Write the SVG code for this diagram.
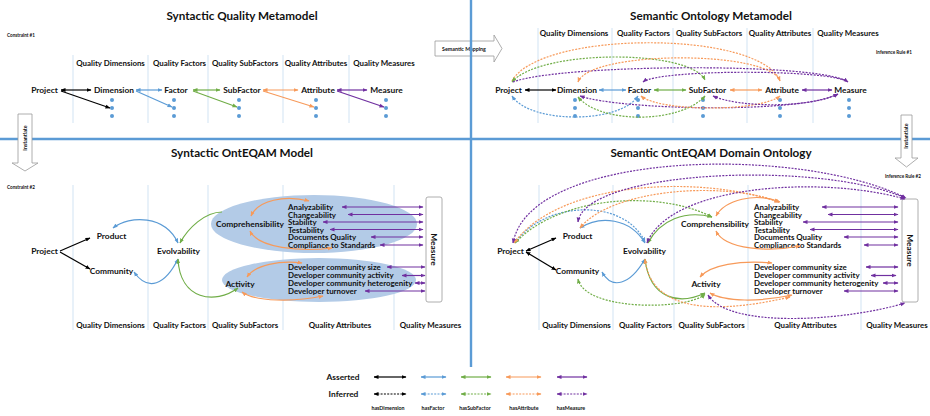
<svg xmlns="http://www.w3.org/2000/svg" width="930" height="416" viewBox="0 0 930 416">
<defs>
<style>
text{font-family:Lato,"Liberation Sans",sans-serif;font-weight:bold;fill:#111}
.t{font-size:11.7px;text-anchor:middle}
.h{font-size:7.9px;text-anchor:middle}
.n{font-size:8.4px;text-anchor:middle}
.a{font-size:7.9px}
.s{font-size:4.6px}
.sm{font-size:5.3px;text-anchor:middle}
.lane{stroke:#c5dcf0;stroke-width:0.8}
.div{stroke:#5b9bd5;stroke-width:2.4}
.dot{fill:#5b9bd5}
.k,.b,.g,.o,.p{fill:none;stroke-width:1.2}
.k{stroke:#000}.b{stroke:#5b9bd5}.g{stroke:#70ad47}.o{stroke:#f79a5a}.p{stroke:#7030a0}
.d{stroke-dasharray:2 1.3}
.ell{fill:#b3cbe7}
.box{fill:#fff;stroke:#999;stroke-width:0.8}
</style>
<marker id="mk" viewBox="0 0 10 10" refX="9" refY="5" markerWidth="5" markerHeight="5" markerUnits="userSpaceOnUse" orient="auto-start-reverse"><path d="M0,1 L10,5 L0,9 z" fill="#000"/></marker>
<marker id="mb" viewBox="0 0 10 10" refX="9" refY="5" markerWidth="5" markerHeight="5" markerUnits="userSpaceOnUse" orient="auto-start-reverse"><path d="M0,1 L10,5 L0,9 z" fill="#5b9bd5"/></marker>
<marker id="mg" viewBox="0 0 10 10" refX="9" refY="5" markerWidth="5" markerHeight="5" markerUnits="userSpaceOnUse" orient="auto-start-reverse"><path d="M0,1 L10,5 L0,9 z" fill="#70ad47"/></marker>
<marker id="mo" viewBox="0 0 10 10" refX="9" refY="5" markerWidth="5" markerHeight="5" markerUnits="userSpaceOnUse" orient="auto-start-reverse"><path d="M0,1 L10,5 L0,9 z" fill="#f79a5a"/></marker>
<marker id="mp" viewBox="0 0 10 10" refX="9" refY="5" markerWidth="5" markerHeight="5" markerUnits="userSpaceOnUse" orient="auto-start-reverse"><path d="M0,1 L10,5 L0,9 z" fill="#7030a0"/></marker>
</defs>
<rect width="930" height="416" fill="#fff"/>

<g id="semantic-mapping">
<polygon class="box" points="435,41 494,41 494,35 502,48.5 494,62 494,56 435,56"/>
<text class="sm" x="464" y="50.5">Semantic Mapping</text>
</g>

<g id="dividers">
<line class="div" x1="471" y1="0" x2="471" y2="367"/>
<line class="div" x1="0" y1="139" x2="930" y2="139"/>
</g>

<g id="lanes">
<path class="lane" d="M73,55V123M148,55V123M208,55V123M283,55V123M349,55V123"/>
<path class="lane" d="M538,28V123M612,28V123M673,28V123M747,28V123M813,28V123"/>
<path class="lane" d="M73,185V330M148,185V330M208,185V330M283,185V330M394,185V330"/>
<path class="lane" d="M539,185V330M613,185V330M674,185V330M748,185V330M861,185V330"/>
</g>

<g id="ellipses">
<ellipse class="ell" cx="314" cy="224" rx="103" ry="29"/>
<ellipse class="ell" cx="319" cy="280" rx="97" ry="22"/>
</g>

<g id="instantiate-left">
<polygon class="box" points="18,114 32,114 32,163 38,163 25,171 12,163 18,163"/>
<text class="sm" transform="translate(26.8,138) rotate(-90)">Instantiate</text>
</g>
<g id="instantiate-right">
<polygon class="box" points="901,115 912,115 912,158 918,158 906.5,167 895,158 901,158"/>
<text class="sm" transform="translate(908.4,136) rotate(-90)">Instantiate</text>
</g>

<g id="titles">
<text class="t" x="242" y="20">Syntactic Quality Metamodel</text>
<text class="t" x="711" y="20">Semantic Ontology Metamodel</text>
<text class="t" x="242" y="157">Syntactic OntEQAM Model</text>
<text class="t" x="711" y="157">Semantic OntEQAM Domain Ontology</text>
<text class="s" x="7" y="37">Constraint #1</text>
<text class="s" x="7" y="189">Constraint #2</text>
<text class="s" x="876" y="54">Inference Rule #1</text>
<text class="s" x="885" y="178">Inference Rule #2</text>
</g>

<g id="headers">
<text class="h" x="110.5" y="66">Quality Dimensions</text>
<text class="h" x="179.5" y="66">Quality Factors</text>
<text class="h" x="245" y="66">Quality SubFactors</text>
<text class="h" x="316" y="66">Quality Attributes</text>
<text class="h" x="384" y="66">Quality Measures</text>
<text class="h" x="574" y="36">Quality Dimensions</text>
<text class="h" x="643.5" y="36">Quality Factors</text>
<text class="h" x="709" y="36">Quality SubFactors</text>
<text class="h" x="780" y="36">Quality Attributes</text>
<text class="h" x="848" y="36">Quality Measures</text>
<text class="h" x="110.5" y="328">Quality Dimensions</text>
<text class="h" x="179.5" y="328">Quality Factors</text>
<text class="h" x="245" y="328">Quality SubFactors</text>
<text class="h" x="340" y="328">Quality Attributes</text>
<text class="h" x="430.5" y="328">Quality Measures</text>
<text class="h" x="576.5" y="328">Quality Dimensions</text>
<text class="h" x="645.5" y="328">Quality Factors</text>
<text class="h" x="711.5" y="328">Quality SubFactors</text>
<text class="h" x="805.5" y="328">Quality Attributes</text>
<text class="h" x="897" y="328">Quality Measures</text>
</g>

<g id="tl-project"><text class="n" x="44.5" y="93">Project</text></g>
<g id="tl-dimension"><text class="n" x="114" y="93">Dimension</text><circle class="dot" cx="112" cy="100" r="2"/><circle class="dot" cx="112" cy="108" r="2"/><circle class="dot" cx="112" cy="116" r="2"/></g>
<g id="tl-factor"><text class="n" x="176" y="93">Factor</text><circle class="dot" cx="174" cy="100" r="2"/><circle class="dot" cx="174" cy="108" r="2"/><circle class="dot" cx="174" cy="116" r="2"/></g>
<g id="tl-subfactor"><text class="n" x="242" y="93">SubFactor</text><circle class="dot" cx="239" cy="100" r="2"/><circle class="dot" cx="239" cy="108" r="2"/><circle class="dot" cx="239" cy="116" r="2"/></g>
<g id="tl-attribute"><text class="n" x="318" y="93">Attribute</text><circle class="dot" cx="316" cy="100" r="2"/><circle class="dot" cx="316" cy="108" r="2"/><circle class="dot" cx="316" cy="116" r="2"/></g>
<g id="tl-measure"><text class="n" x="386.5" y="93">Measure</text><circle class="dot" cx="386" cy="100" r="2"/><circle class="dot" cx="386" cy="108" r="2"/><circle class="dot" cx="386" cy="116" r="2"/></g>

<g id="tr-project"><text class="n" x="508.5" y="93">Project</text></g>
<g id="tr-dimension"><text class="n" x="577" y="93">Dimension</text><circle class="dot" cx="575" cy="100" r="2"/><circle class="dot" cx="575" cy="108" r="2"/><circle class="dot" cx="575" cy="116" r="2"/></g>
<g id="tr-factor"><text class="n" x="639.5" y="93">Factor</text><circle class="dot" cx="638" cy="100" r="2"/><circle class="dot" cx="638" cy="108" r="2"/><circle class="dot" cx="638" cy="116" r="2"/></g>
<g id="tr-subfactor"><text class="n" x="707.5" y="93">SubFactor</text><circle class="dot" cx="703" cy="100" r="2"/><circle class="dot" cx="703" cy="108" r="2"/><circle class="dot" cx="703" cy="116" r="2"/></g>
<g id="tr-attribute"><text class="n" x="782" y="93">Attribute</text><circle class="dot" cx="780" cy="100" r="2"/><circle class="dot" cx="780" cy="108" r="2"/><circle class="dot" cx="780" cy="116" r="2"/></g>
<g id="tr-measure"><text class="n" x="850.5" y="93">Measure</text><circle class="dot" cx="849" cy="100" r="2"/><circle class="dot" cx="849" cy="108" r="2"/><circle class="dot" cx="849" cy="116" r="2"/></g>

<g id="bl-project"><text class="n" x="44.5" y="254">Project</text></g>
<g id="bl-product"><text class="n" x="111.5" y="239">Product</text></g>
<g id="bl-community"><text class="n" x="111.5" y="274">Community</text></g>
<g id="bl-evolvability"><text class="n" x="178.5" y="254">Evolvability</text></g>
<g id="bl-comprehensibility"><text class="n" x="250" y="227">Comprehensibility</text></g>
<g id="bl-activity"><text class="n" x="240" y="287">Activity</text></g>
<g id="bl-attributes">
<text class="a" x="288" y="210">Analyzability</text>
<text class="a" x="288" y="217.6">Changeability</text>
<text class="a" x="288" y="225.2">Stability</text>
<text class="a" x="288" y="232.8">Testability</text>
<text class="a" x="288" y="240.4">Documents Quality</text>
<text class="a" x="288" y="248">Compliance to Standards</text>
<text class="a" x="288" y="270">Developer community size</text>
<text class="a" x="288" y="278">Developer community activity</text>
<text class="a" x="288" y="286">Developer community heterogenity</text>
<text class="a" x="288" y="294">Developer turnover</text>
</g>
<g id="bl-measure"><rect class="box" x="426" y="197" width="16" height="105" rx="2"/><text class="n" transform="translate(431.2,249.5) rotate(90)">Measure</text></g>

<g id="br-project"><text class="n" x="510.5" y="254">Project</text></g>
<g id="br-product"><text class="n" x="577.5" y="239">Product</text></g>
<g id="br-community"><text class="n" x="577.5" y="274">Community</text></g>
<g id="br-evolvability"><text class="n" x="644.5" y="254">Evolvability</text></g>
<g id="br-comprehensibility"><text class="n" x="715" y="227">Comprehensibility</text></g>
<g id="br-activity"><text class="n" x="706" y="287">Activity</text></g>
<g id="br-attributes">
<text class="a" x="754" y="210">Analyzability</text>
<text class="a" x="754" y="217.6">Changeability</text>
<text class="a" x="754" y="225.2">Stability</text>
<text class="a" x="754" y="232.8">Testability</text>
<text class="a" x="754" y="240.4">Documents Quality</text>
<text class="a" x="754" y="248">Compliance to Standards</text>
<text class="a" x="754" y="270">Developer community size</text>
<text class="a" x="754" y="278">Developer community activity</text>
<text class="a" x="754" y="286">Developer community heterogenity</text>
<text class="a" x="754" y="294">Developer turnover</text>
</g>
<g id="br-measure"><rect class="box" x="902" y="199" width="16" height="103" rx="2"/><text class="n" transform="translate(907.2,250.5) rotate(90)">Measure</text></g>

<g id="legend">
<text class="n" x="343" y="380">Asserted</text>
<text class="n" x="343.5" y="397">Inferred</text>
<path class="k" d="M374,377H406" marker-start="url(#mk)" marker-end="url(#mk)"/>
<path class="b" d="M421,377H446" marker-start="url(#mb)" marker-end="url(#mb)"/>
<path class="g" d="M461,377H491" marker-start="url(#mg)" marker-end="url(#mg)"/>
<path class="o" d="M506,377H541" marker-start="url(#mo)" marker-end="url(#mo)"/>
<path class="p" d="M557,377H587" marker-start="url(#mp)" marker-end="url(#mp)"/>
<path class="k d" d="M374,394H406" marker-start="url(#mk)" marker-end="url(#mk)"/>
<path class="b d" d="M421,394H446" marker-start="url(#mb)" marker-end="url(#mb)"/>
<path class="g d" d="M461,394H491" marker-start="url(#mg)" marker-end="url(#mg)"/>
<path class="o d" d="M506,394H541" marker-start="url(#mo)" marker-end="url(#mo)"/>
<path class="p d" d="M557,394H587" marker-start="url(#mp)" marker-end="url(#mp)"/>
<text class="sm" x="388" y="410">hasDimension</text>
<text class="sm" x="433" y="410">hasFactor</text>
<text class="sm" x="475" y="410">hasSubFactor</text>
<text class="sm" x="524" y="410">hasAttribute</text>
<text class="sm" x="571" y="410">hasMeasure</text>
</g>

<g id="connectors">
<path class="k" d="M61,90H91" marker-start="url(#mk)" marker-end="url(#mk)"/>
<path class="k" d="M61,91L110,108" marker-end="url(#mk)"/>
<path class="b" d="M136,90H162" marker-start="url(#mb)" marker-end="url(#mb)"/>
<path class="b" d="M136,91L172,107" marker-end="url(#mb)"/>
<path class="g" d="M193,90H220" marker-start="url(#mg)" marker-end="url(#mg)"/>
<path class="g" d="M193,91L237,107" marker-end="url(#mg)"/>
<path class="o" d="M263,90H298" marker-start="url(#mo)" marker-end="url(#mo)"/>
<path class="o" d="M263,91L314,107" marker-end="url(#mo)"/>
<path class="p" d="M337,90H367" marker-start="url(#mp)" marker-end="url(#mp)"/>
<path class="p" d="M337,91L384,107" marker-end="url(#mp)"/>

<path class="k" d="M525,90H556" marker-start="url(#mk)" marker-end="url(#mk)"/>
<path class="b" d="M599,90H626" marker-start="url(#mb)" marker-end="url(#mb)"/>
<path class="g" d="M654,90H686" marker-start="url(#mg)" marker-end="url(#mg)"/>
<path class="o" d="M730,90H762" marker-start="url(#mo)" marker-end="url(#mo)"/>
<path class="p" d="M802,90H832" marker-start="url(#mp)" marker-end="url(#mp)"/>
<path class="o d" d="M512,81C540,30 760,30 780,81" marker-end="url(#mo)"/>
<path class="g d" d="M512,82C540,49 690,49 705,80" marker-start="url(#mg)" marker-end="url(#mg)"/>
<path class="p d" d="M513,82C560,64 820,62 848,82" marker-end="url(#mp)"/>
<path class="o d" d="M578,82C590,50 770,50 780,81" marker-start="url(#mo)"/>
<path class="p d" d="M643,82C660,69 830,69 848,82" marker-start="url(#mp)"/>
<path class="b d" d="M512,96C530,124 620,124 638,96" marker-start="url(#mb)" marker-end="url(#mb)"/>
<path class="p d" d="M580,96C620,110 800,114 838,94" marker-start="url(#mp)" marker-end="url(#mp)"/>
<path class="g d" d="M578,97C600,124 680,124 705,96" marker-start="url(#mg)" marker-end="url(#mg)"/>
<path class="o d" d="M641,96C660,112 760,112 780,96" marker-start="url(#mo)" marker-end="url(#mo)"/>
<path class="p d" d="M713,96C740,108 810,108 838,94" marker-start="url(#mp)" marker-end="url(#mp)"/>

<path class="k" d="M60,251L90,238" marker-end="url(#mk)"/>
<path class="k" d="M60,252L90,269" marker-end="url(#mk)"/>
<path class="b" d="M113,228C130,215 165,215 178,243" marker-start="url(#mb)" marker-end="url(#mb)"/>
<path class="b" d="M134,272C148,292 165,285 178,259" marker-start="url(#mb)" marker-end="url(#mb)"/>
<path class="g" d="M222,212C205,212 188,228 180,243" marker-end="url(#mg)"/>
<path class="g" d="M178,259C180,300 215,305 238,288" marker-start="url(#mg)" marker-end="url(#mg)"/>
<path class="o" d="M251,216C258,200 285,195 309,201" marker-start="url(#mo)" marker-end="url(#mo)"/>
<path class="o" d="M250,231C258,248 300,252 332,248" marker-start="url(#mo)" marker-end="url(#mo)"/>
<path class="o" d="M247,277C255,265 280,260 302,263" marker-start="url(#mo)" marker-end="url(#mo)"/>
<path class="o" d="M242,292C255,302 295,302 323,296" marker-start="url(#mo)" marker-end="url(#mo)"/>
<path class="p" d="M342,207H423" marker-start="url(#mp)" marker-end="url(#mp)"/>
<path class="p" d="M348,214.5H423" marker-start="url(#mp)" marker-end="url(#mp)"/>
<path class="p" d="M323,222H423" marker-start="url(#mp)" marker-end="url(#mp)"/>
<path class="p" d="M330,229.5H423" marker-start="url(#mp)" marker-end="url(#mp)"/>
<path class="p" d="M371,237H423" marker-start="url(#mp)" marker-end="url(#mp)"/>
<path class="p" d="M380,245H423" marker-start="url(#mp)" marker-end="url(#mp)"/>
<path class="p" d="M387,267H425" marker-start="url(#mp)" marker-end="url(#mp)"/>
<path class="p" d="M402,275.5H425" marker-start="url(#mp)" marker-end="url(#mp)"/>
<path class="p" d="M415,283H425" marker-start="url(#mp)" marker-end="url(#mp)"/>
<path class="p" d="M365,291H425" marker-start="url(#mp)" marker-end="url(#mp)"/>

<path class="k" d="M526,251L556,238" marker-start="url(#mk)" marker-end="url(#mk)"/>
<path class="k" d="M526,252L556,270" marker-start="url(#mk)" marker-end="url(#mk)"/>
<path class="b" d="M580,228C600,215 630,218 645,243" marker-start="url(#mb)" marker-end="url(#mb)"/>
<path class="b" d="M602,272C612,290 630,285 645,259" marker-start="url(#mb)" marker-end="url(#mb)"/>
<path class="b d" d="M515,243C545,200 625,198 645,242" marker-end="url(#mb)"/>
<path class="g" d="M648,243C660,220 685,210 712,217" marker-start="url(#mg)" marker-end="url(#mg)"/>
<path class="g" d="M645,259C650,300 680,305 705,293" marker-start="url(#mg)" marker-end="url(#mg)"/>
<path class="g d" d="M578,279C585,312 690,310 705,294" marker-start="url(#mg)" marker-end="url(#mg)"/>
<path class="g d" d="M515,243C560,195 660,190 712,217" marker-start="url(#mg)" marker-end="url(#mg)"/>
<path class="o d" d="M514,243C560,180 700,175 779,202" marker-start="url(#mo)" marker-end="url(#mo)"/>
<path class="o d" d="M580,228C610,190 720,180 779,202" marker-start="url(#mo)" marker-end="url(#mo)"/>
<path class="o" d="M716,216C725,200 755,192 780,202" marker-start="url(#mo)" marker-end="url(#mo)"/>
<path class="o" d="M716,231C725,250 770,252 800,246" marker-start="url(#mo)" marker-end="url(#mo)"/>
<path class="o" d="M700,277C710,265 740,260 772,263" marker-start="url(#mo)" marker-end="url(#mo)"/>
<path class="o" d="M710,293C725,302 760,302 792,295" marker-start="url(#mo)" marker-end="url(#mo)"/>
<path class="o d" d="M645,259C650,305 700,318 790,297" marker-start="url(#mo)" marker-end="url(#mo)"/>
<path class="p d" d="M513,243C530,150 800,145 906,198" marker-start="url(#mp)" marker-end="url(#mp)"/>
<path class="p d" d="M578,222C585,170 820,160 905,198" marker-start="url(#mp)" marker-end="url(#mp)"/>
<path class="p d" d="M647,243C670,185 820,175 905,199" marker-start="url(#mp)" marker-end="url(#mp)"/>
<path class="p d" d="M708,295C730,330 850,320 905,303" marker-start="url(#mp)" marker-end="url(#mp)"/>
<path class="p" d="M822,207H898" marker-start="url(#mp)" marker-end="url(#mp)"/>
<path class="p" d="M828,214.5H898" marker-start="url(#mp)" marker-end="url(#mp)"/>
<path class="p" d="M803,222H898" marker-start="url(#mp)" marker-end="url(#mp)"/>
<path class="p" d="M810,229.5H898" marker-start="url(#mp)" marker-end="url(#mp)"/>
<path class="p" d="M844,237H898" marker-start="url(#mp)" marker-end="url(#mp)"/>
<path class="p" d="M864,245H898" marker-start="url(#mp)" marker-end="url(#mp)"/>
<path class="p" d="M866,267H898" marker-start="url(#mp)" marker-end="url(#mp)"/>
<path class="p" d="M871,275.5H896" marker-start="url(#mp)" marker-end="url(#mp)"/>
<path class="p" d="M883,283H898" marker-start="url(#mp)" marker-end="url(#mp)"/>
<path class="p" d="M844,291H898" marker-start="url(#mp)" marker-end="url(#mp)"/>
</g>
</svg>
